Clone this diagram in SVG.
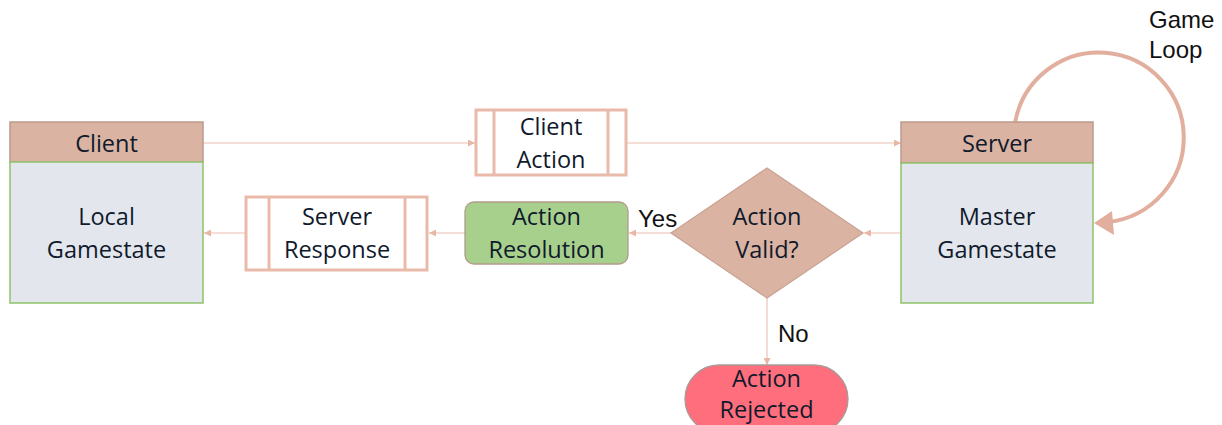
<svg xmlns="http://www.w3.org/2000/svg" width="1222" height="425" viewBox="0 0 1222 425">
  <defs>
    <marker id="arrow" viewBox="0 0 10 10" refX="10" refY="5" markerWidth="7" markerHeight="7" markerUnits="userSpaceOnUse" orient="auto">
      <path d="M0,0 L10,5 L0,10 z" fill="#e9b7a6"/>
    </marker>
    <style>
      .hdr { fill: #dbb3a2; stroke: #bc9a8c; stroke-width: 1.5; }
      .body { fill: #e3e7ed; stroke: #8ec26a; stroke-width: 1.5; }
      .proc { fill: #ffffff; stroke: #e9baa9; stroke-width: 3; }
      .lbl { font-family: "Open Sans", "Noto Sans", sans-serif; font-size: 23.5px; fill: #101a2c; text-anchor: middle; }
      .note { font-family: "Liberation Sans", Arial, sans-serif; font-size: 24px; fill: #111111; }
      .conn { fill: none; stroke: #f1d3c8; stroke-width: 1.6; }
    </style>
  </defs>
  <rect width="1222" height="425" fill="#ffffff"/>

  <!-- connectors -->
  <g id="connectors">
    <line class="conn" x1="203" y1="143" x2="475" y2="143" marker-end="url(#arrow)"/>
    <line class="conn" x1="627" y1="143" x2="901" y2="143" marker-end="url(#arrow)"/>
    <line class="conn" x1="901" y1="233" x2="864" y2="233" marker-end="url(#arrow)"/>
    <line class="conn" x1="671" y1="233" x2="629" y2="233" marker-end="url(#arrow)"/>
    <line class="conn" x1="465" y1="233" x2="429" y2="233" marker-end="url(#arrow)"/>
    <line class="conn" x1="245" y1="233" x2="204" y2="233" marker-end="url(#arrow)"/>
    <line class="conn" x1="767" y1="298" x2="767" y2="365" marker-end="url(#arrow)"/>
    <!-- game loop -->
    <path d="M1015,123 A85,85 0 1 1 1108,222" fill="none" stroke="#e2ae9d" stroke-width="4"/>
    <polygon points="1094,223 1112,211 1114,235" fill="#e2ae9d"/>
    <text class="note" x="1149" y="28">Game</text>
    <text class="note" x="1149" y="58">Loop</text>
    <text class="note" x="638" y="227">Yes</text>
    <text class="note" x="778" y="342">No</text>
  </g>

  <!-- client -->
  <g id="client">
    <rect class="hdr" x="10" y="122" width="193" height="40"/>
    <rect class="body" x="10" y="162" width="193" height="141"/>
    <text class="lbl" x="106.5" y="152">Client</text>
    <text class="lbl" x="106.5" y="225">Local</text>
    <text class="lbl" x="106.5" y="258">Gamestate</text>
  </g>

  <!-- server -->
  <g id="server">
    <rect class="hdr" x="901" y="122" width="192" height="41"/>
    <rect class="body" x="901" y="163" width="192" height="140"/>
    <text class="lbl" x="997" y="152">Server</text>
    <text class="lbl" x="997" y="225">Master</text>
    <text class="lbl" x="997" y="258">Gamestate</text>
  </g>

  <!-- client action -->
  <g id="client-action">
    <rect class="proc" x="476" y="110" width="150" height="65"/>
    <line class="proc" x1="494" y1="110" x2="494" y2="175"/>
    <line class="proc" x1="608" y1="110" x2="608" y2="175"/>
    <text class="lbl" x="551" y="135">Client</text>
    <text class="lbl" x="551" y="168">Action</text>
  </g>

  <!-- server response -->
  <g id="server-response">
    <rect class="proc" x="246" y="197" width="181" height="73"/>
    <line class="proc" x1="269" y1="197" x2="269" y2="270"/>
    <line class="proc" x1="405" y1="197" x2="405" y2="270"/>
    <text class="lbl" x="337" y="225">Server</text>
    <text class="lbl" x="337" y="258">Response</text>
  </g>

  <!-- action resolution -->
  <g id="action-resolution">
    <rect x="465" y="202" width="163" height="62" rx="9" fill="#a8d08d" stroke="#b39a8a" stroke-width="1.3"/>
    <text class="lbl" x="546.5" y="225">Action</text>
    <text class="lbl" x="546.5" y="258">Resolution</text>
  </g>

  <!-- action valid -->
  <g id="action-valid">
    <polygon points="767,168 863,233 767,298 671,233" fill="#dbb3a2" stroke="#c9a293" stroke-width="1.2"/>
    <text class="lbl" x="767" y="225">Action</text>
    <text class="lbl" x="767" y="258">Valid?</text>
  </g>

  <!-- action rejected -->
  <g id="action-rejected">
    <rect x="685" y="365" width="163" height="68" rx="34" fill="#ff6e7c" stroke="#a89a96" stroke-width="1.3"/>
    <text class="lbl" x="766.5" y="387">Action</text>
    <text class="lbl" x="766.5" y="418">Rejected</text>
  </g>
</svg>
